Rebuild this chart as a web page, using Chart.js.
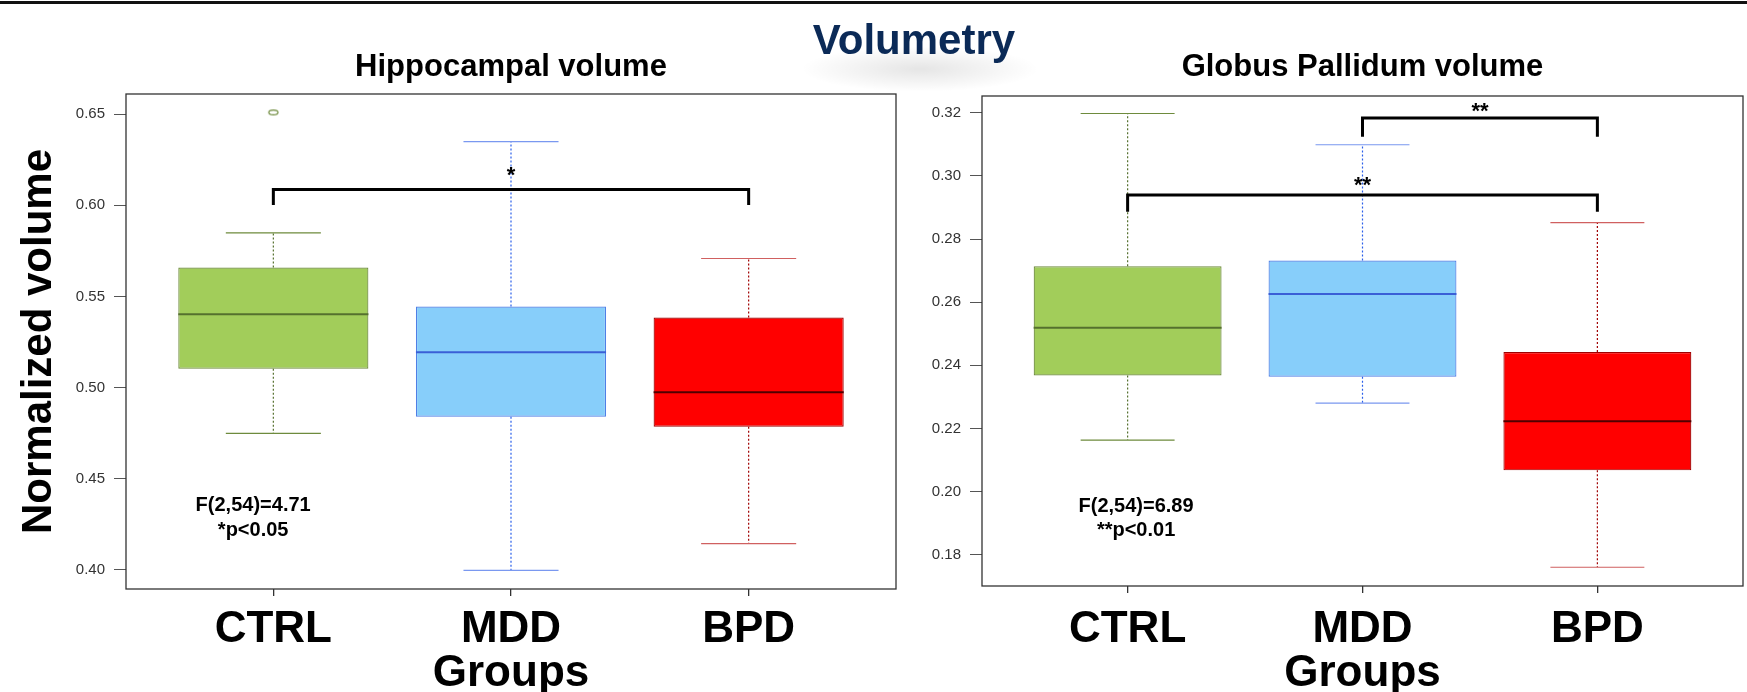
<!DOCTYPE html>
<html>
<head>
<meta charset="utf-8">
<script src="https://cdn.jsdelivr.net/npm/chart.js@4.4.1/dist/chart.umd.min.js"></script>
<style>
html,body{margin:0;padding:0;background:#fff;width:1747px;height:692px;overflow:hidden;}
#topline{position:absolute;left:0;top:1px;width:1747px;height:3px;background:#111;}
#glow{position:absolute;left:800px;top:46px;width:240px;height:46px;background:radial-gradient(ellipse at center, rgba(0,0,0,0.10) 0%, rgba(0,0,0,0) 70%);}
#vol{position:absolute;left:714px;width:400px;top:16px;line-height:50px;text-align:center;font:bold 42px "Liberation Sans",Arial,sans-serif;color:#0b2a57;z-index:5;}
.wrap{position:absolute;top:0;height:692px;}
</style>
</head>
<body>
<div id="topline"></div>
<div id="glow"></div>
<div id="vol">Volumetry</div>
<div class="wrap" style="left:0;width:905px;"><canvas id="c1"></canvas></div>
<div class="wrap" style="left:905px;width:842px;"><canvas id="c2"></canvas></div>
<script>
// ---------------- DATA ----------------
const groups   = ['CTRL', 'MDD', 'BPD'];
const groupPos = [1, 2, 3];

// Hippocampal volume
const hipLower  = [0.4748, 0.3996, 0.4143];
const hipQ1     = [0.5103, 0.4840, 0.4785];
const hipMedian = [0.5402, 0.5194, 0.4974];
const hipQ3     = [0.5659, 0.5445, 0.5384];
const hipUpper  = [0.5849, 0.6350, 0.5708];
const hipOutlierGroup = [1];
const hipOutlierValue = [0.651];
const hipTicks  = [0.40, 0.45, 0.50, 0.55, 0.60, 0.65];
const hipStats  = ['F(2,54)=4.71', '*p<0.05'];

// Globus Pallidum volume
const gpLower  = [0.2163, 0.2280, 0.1760];
const gpQ1     = [0.2368, 0.2364, 0.2067];
const gpMedian = [0.2519, 0.2626, 0.2223];
const gpQ3     = [0.2714, 0.2732, 0.2442];
const gpUpper  = [0.3198, 0.3099, 0.2852];
const gpOutlierGroup = [];
const gpOutlierValue = [];
const gpTicks  = [0.18, 0.20, 0.22, 0.24, 0.26, 0.28, 0.30, 0.32];
const gpStats  = ['F(2,54)=6.89', '**p<0.01'];

// significance comparisons: from group, to group, label
const hipSigFrom = [1],    hipSigTo = [3],    hipSigLabel = ['*'];
const gpSigFrom  = [2, 1], gpSigTo  = [3, 3], gpSigLabel  = ['**', '**'];

// ---------------- STYLE ----------------
const NARROW = (function(){
  const c = document.createElement('canvas').getContext('2d');
  const t = 'mmmmmmmmmmlliWWW0123';
  c.font = '72px monospace'; const a = c.measureText(t).width;
  c.font = '72px "Liberation Sans Narrow", monospace'; const b = c.measureText(t).width;
  return Math.abs(a - b) > 0.5;
})();
const REG = '"Liberation Sans", Arial, Helvetica, sans-serif';
const BIG = NARROW ? '"Liberation Sans Narrow", "Liberation Sans", Arial, sans-serif' : REG;
const BIG_X = NARROW ? 52 : 44;
const BIG_Y = NARROW ? 50 : 42;

Chart.defaults.font.family = REG;
Chart.defaults.animation = false;

const boxFill    = ['#A2CD5A', '#87CEFA', '#FF0000'];
const boxBorder  = ['#6E8B3D', '#4F7FE6', '#A00000'];
const medianCol  = ['#55702E', '#3A5FD6', '#500000'];
const whiskerCol = ['#55702E', '#2A5FEA', '#A00000'];
const capCol     = ['#6E8B3D', '#7A98F0', '#D06060'];

function ellipseMarker(){
  const c = document.createElement('canvas'); c.width = 13; c.height = 8;
  const g = c.getContext('2d');
  g.strokeStyle = '#6E8B3D'; g.lineWidth = 1.2;
  g.beginPath(); g.ellipse(6.5, 4, 4.6, 2.4, 0, 0, Math.PI*2); g.stroke();
  return c;
}

const extras = {
  id: 'boxExtras',
  afterDatasetsDraw(chart, args, o) {
    const {ctx, chartArea: a, scales: {x, y}} = chart;
    const meta = chart.getDatasetMeta(0);
    ctx.save();
    groupPos.forEach((g, i) => {
      const px = x.getPixelForValue(g);
      const half = meta.data[i].width / 2;
      const capHalf = half / 2;
      const yU = y.getPixelForValue(o.upper[i]), yQ3 = y.getPixelForValue(o.q3[i]);
      const yL = y.getPixelForValue(o.lower[i]), yQ1 = y.getPixelForValue(o.q1[i]);
      const yM = y.getPixelForValue(o.median[i]);
      ctx.lineWidth = 1.2; ctx.strokeStyle = whiskerCol[i]; ctx.setLineDash([2, 2]);
      ctx.beginPath(); ctx.moveTo(px, yQ3); ctx.lineTo(px, yU); ctx.moveTo(px, yQ1); ctx.lineTo(px, yL); ctx.stroke();
      ctx.setLineDash([]); ctx.lineWidth = 1.2; ctx.strokeStyle = capCol[i];
      ctx.beginPath(); ctx.moveTo(px - capHalf, yU); ctx.lineTo(px + capHalf, yU);
      ctx.moveTo(px - capHalf, yL); ctx.lineTo(px + capHalf, yL); ctx.stroke();
      ctx.lineWidth = 2; ctx.strokeStyle = medianCol[i];
      ctx.beginPath(); ctx.moveTo(px - half, yM); ctx.lineTo(px + half, yM); ctx.stroke();
    });
    // frame
    ctx.lineWidth = 1.3; ctx.strokeStyle = '#333';
    ctx.strokeRect(a.left, a.top, a.right - a.left, a.bottom - a.top);
    // significance brackets
    ctx.strokeStyle = '#000'; ctx.lineWidth = 3; ctx.fillStyle = '#000';
    ctx.font = 'bold 22px ' + REG; ctx.textAlign = 'center'; ctx.textBaseline = 'middle';
    o.sigFrom.forEach((f, k) => {
      const x1 = x.getPixelForValue(f), x2 = x.getPixelForValue(o.sigTo[k]);
      const yb = y.getPixelForValue(o.sigLevel[k]), yl = y.getPixelForValue(o.sigLeg[k]);
      ctx.beginPath(); ctx.moveTo(x1, yl); ctx.lineTo(x1, yb); ctx.lineTo(x2, yb); ctx.lineTo(x2, yl); ctx.stroke();
      ctx.fillText(o.sigLabel[k], (x1 + x2) / 2, yb - o.sigGap[k] + 5);
    });
    // stats text
    ctx.font = 'bold 20px ' + REG;
    o.stats.forEach((t, k) => {
      ctx.fillText(t, x.getPixelForValue(o.statX), y.getPixelForValue(o.statY[k]));
    });
    ctx.restore();
  }
};

function makeChart(id, d, L) {
  const titleLH = 31 * 1.2;
  const tickLH = BIG_X * 1.0;
  const grpLH = BIG_X * 0.7;
  return new Chart(document.getElementById(id), {
    type: 'bar',
    data: {
      datasets: [
        {
          type: 'bar',
          data: groupPos.map((g, i) => ({x: g, y: [d.q1[i], d.q3[i]]})),
          backgroundColor: boxFill, borderColor: boxBorder, borderWidth: 1.2,
          borderSkipped: false, barPercentage: 0.8, categoryPercentage: 1, grouped: false
        },
        {
          type: 'scatter',
          data: d.outG.map((g, i) => ({x: g, y: d.outV[i]})),
          pointStyle: ellipseMarker(), pointRadius: 4
        }
      ]
    },
    options: {
      responsive: true, maintainAspectRatio: false, devicePixelRatio: 1,
      layout: {padding: {left: 0, right: L.canvasW - L.right, top: 0, bottom: 0}},
      plugins: {
        legend: {display: false}, tooltip: {enabled: false},
        title: {
          display: true, text: d.title, fullSize: false, color: '#000',
          font: {size: 31, weight: 'bold', family: REG, lineHeight: 1.2},
          padding: {top: L.titleCY - titleLH / 2, bottom: L.top - L.titleCY - titleLH / 2}
        },
        boxExtras: d
      },
      scales: {
        x: {
          type: 'linear', min: 0.38, max: 3.62, offset: false,
          afterBuildTicks: s => { s.ticks = groupPos.map(v => ({value: v})); },
          afterFit: s => { s.height = 692 - L.bottom; },
          ticks: {
            callback: (v, i) => groups[i], autoSkip: false, maxRotation: 0,
            color: '#000', font: {family: BIG, size: BIG_X, weight: 'bold', lineHeight: 1.0},
            padding: L.labelCY - L.bottom - 7 - tickLH / 2
          },
          grid: {offset: false, drawOnChartArea: false, drawTicks: true, tickLength: 7, color: '#333', lineWidth: 1.3},
          border: {display: false},
          title: {
            display: true, text: 'Groups', color: '#000',
            font: {family: BIG, size: BIG_X, weight: 'bold', lineHeight: 0.7},
            padding: {top: 0, bottom: Math.max(0, 692 - L.groupsCY - grpLH / 2)}
          }
        },
        y: {
          type: 'linear', min: d.range[0], max: d.range[1],
          afterBuildTicks: s => { s.ticks = d.ticks.map(v => ({value: v})); },
          afterFit: s => { s.width = L.left; },
          ticks: {callback: v => v.toFixed(2), color: '#333', font: {size: 15, family: REG}, padding: 9},
          grid: {offset: false, drawOnChartArea: false, drawTicks: true, tickLength: 12, color: '#555', lineWidth: 1},
          border: {display: false},
          title: {
            display: !!d.yTitle, text: d.yTitle || '', color: '#000',
            font: {family: BIG, size: BIG_Y, weight: 'bold', lineHeight: 1.0},
            padding: {top: L.yTitleCX - BIG_Y / 2, bottom: 0}
          }
        }
      }
    },
    plugins: [extras]
  });
}

makeChart('c1', {
  title: 'Hippocampal volume', yTitle: 'Normalized volume',
  lower: hipLower, q1: hipQ1, median: hipMedian, q3: hipQ3, upper: hipUpper,
  outG: hipOutlierGroup, outV: hipOutlierValue, ticks: hipTicks, range: [0.3894, 0.6611],
  sigFrom: hipSigFrom, sigTo: hipSigTo, sigLabel: hipSigLabel,
  sigLevel: [0.6087], sigLeg: [0.6002], sigGap: [19],
  stats: hipStats, statX: 0.915, statY: [0.4350, 0.4213]
}, {canvasW: 905, left: 126, right: 896, top: 94, bottom: 589, titleCY: 67, labelCY: 630, groupsCY: 674, yTitleCX: 39});

makeChart('c2', {
  title: 'Globus Pallidum volume', yTitle: null,
  lower: gpLower, q1: gpQ1, median: gpMedian, q3: gpQ3, upper: gpUpper,
  outG: gpOutlierGroup, outV: gpOutlierValue, ticks: gpTicks, range: [0.17005, 0.32535],
  sigFrom: gpSigFrom, sigTo: gpSigTo, sigLabel: gpSigLabel,
  sigLevel: [0.3184, 0.2940], sigLeg: [0.3124, 0.2887], sigGap: [10.5, 14],
  stats: gpStats, statX: 1.036, statY: [0.1954, 0.1875]
}, {canvasW: 842, left: 77, right: 838, top: 96, bottom: 586, titleCY: 67, labelCY: 630, groupsCY: 674, yTitleCX: 39});
</script>
</body>
</html>
